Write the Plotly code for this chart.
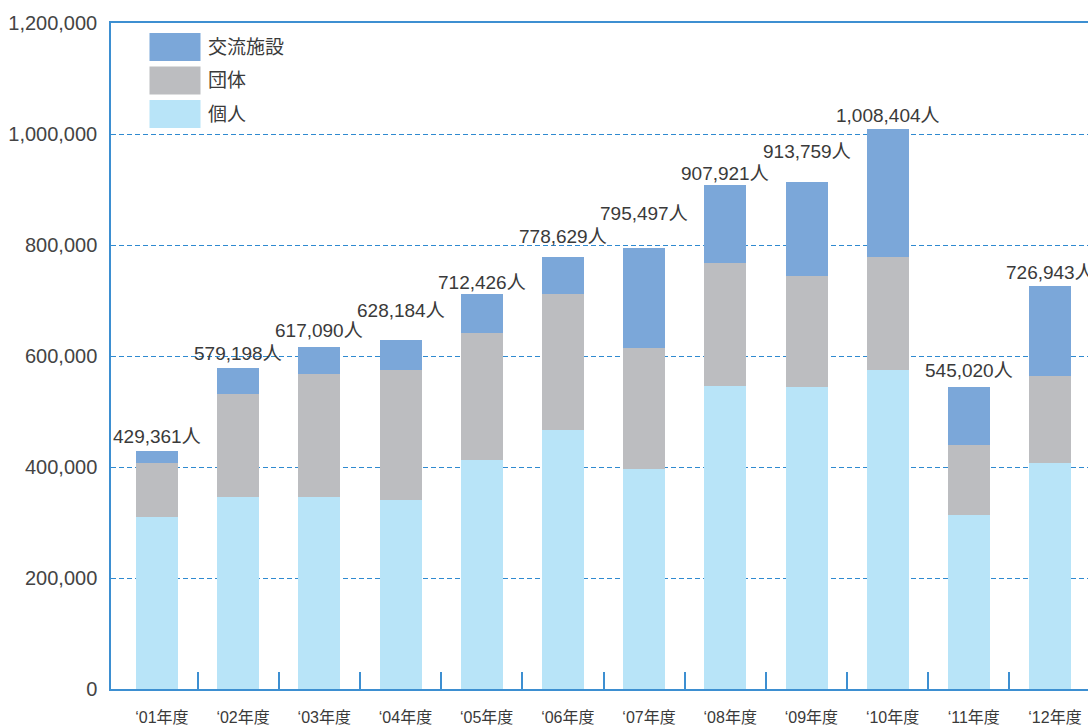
import plotly.graph_objects as go

categories = ["‘01年度", "‘02年度", "‘03年度", "‘04年度", "‘05年度", "‘06年度",
              "‘07年度", "‘08年度", "‘09年度", "‘10年度", "‘11年度", "‘12年度"]
kojin = [310000, 346000, 346000, 340500, 413000, 467000, 396500, 546000, 543500, 575000, 313500, 406500]
dantai = [97700, 186000, 222000, 234500, 228500, 245300, 218500, 222000, 201200, 202800, 126700, 158000]
koryu = [21661, 47198, 49090, 53184, 70926, 66329, 180497, 139921, 169059, 230604, 104820, 162443]
totals = [429361, 579198, 617090, 628184, 712426, 778629, 795497, 907921, 913759, 1008404, 545020, 726943]
y_ticks = [0, 200000, 400000, 600000, 800000, 1000000, 1200000]

# vertical offset (px) of each total label above its bar, as placed in the original
label_lift = [14, 14, 16, 30, 11, 20, 34, 12, 30, 14, 16, 13]

series_names = ["個人", "団体", "交流施設"]
colors = {"個人": "#b8e4f8", "団体": "#bcbdc0", "交流施設": "#7ba7d9"}

FONT = "Liberation Sans, Arial, Noto Sans CJK JP, sans-serif"
TEXT = "#3a3a3a"
BLUE = "#3d8fd1"

xpos = list(range(len(categories)))
boundaries = [i + 0.5 for i in xpos[:-1]]
xr = [-0.567, 11.467]

fig = go.Figure()
for name, vals in zip(series_names, [kojin, dantai, koryu]):
    fig.add_trace(go.Bar(x=xpos, y=vals, name=name, marker=dict(color=colors[name], line=dict(width=0)),
                         showlegend=False, hoverinfo="skip"))

# invisible carrier trace so the label axis (x2) is rendered
fig.add_trace(go.Scatter(x=xpos, y=totals, mode="markers", marker=dict(opacity=0),
                         xaxis="x2", showlegend=False, hoverinfo="skip"))

for x, t, lift in zip(xpos, totals, label_lift):
    fig.add_annotation(x=x, y=t, xref="x", yref="y", text=f"{t:,}人", showarrow=False,
                       xanchor="center", yanchor="middle", yshift=lift,
                       font=dict(size=19, color=TEXT, family=FONT))

fig.update_layout(
    width=1088, height=726,
    margin=dict(l=111, r=0, t=23, b=37, autoexpand=False),
    paper_bgcolor="white", plot_bgcolor="white",
    barmode="stack", bargap=0.483,
    font=dict(family=FONT, color=TEXT),
    xaxis=dict(range=xr, tickvals=boundaries, showticklabels=False,
               ticks="inside", ticklen=17, tickcolor=BLUE, tickwidth=1.5,
               showline=True, linecolor=BLUE, linewidth=1.5, mirror=True,
               showgrid=False, zeroline=False, fixedrange=True),
    xaxis2=dict(range=xr, overlaying="x", side="bottom", anchor="y",
                tickvals=[p + 0.06 for p in xpos], ticktext=categories, ticks="",
                tickfont=dict(size=16, color=TEXT, family=FONT),
                ticklabelstandoff=17, ticklabeloverflow="allow", automargin=False,
                showline=False, showgrid=False, zeroline=False),
    yaxis=dict(range=[0, 1200000], tickvals=y_ticks,
               ticktext=[f"{v:,}" for v in y_ticks],
               tickfont=dict(size=20, color="#444444", family=FONT),
               ticklabelstandoff=8, ticks="",
               showline=True, linecolor=BLUE, linewidth=1.5,
               showgrid=True, gridcolor="#2f8ad0", gridwidth=1, griddash="5px,3px",
               zeroline=False),
)

# legend drawn as swatches + labels in the upper-left of the plot area
legend_order = ["交流施設", "団体", "個人"]
for i, name in enumerate(legend_order):
    top = -10 - i * 33.5
    fig.add_shape(type="rect", xref="paper", yref="paper",
                  xsizemode="pixel", ysizemode="pixel", xanchor=0, yanchor=1,
                  x0=38.5, x1=89.5, y0=top, y1=top - 28,
                  fillcolor=colors[name], line=dict(width=0), layer="above")
    fig.add_annotation(xref="paper", yref="paper", x=0, y=1, xshift=95, yshift=top - 14,
                       text=name, showarrow=False, xanchor="left", yanchor="middle",
                       font=dict(size=19, color=TEXT, family=FONT))

fig.write_html("out.html")
